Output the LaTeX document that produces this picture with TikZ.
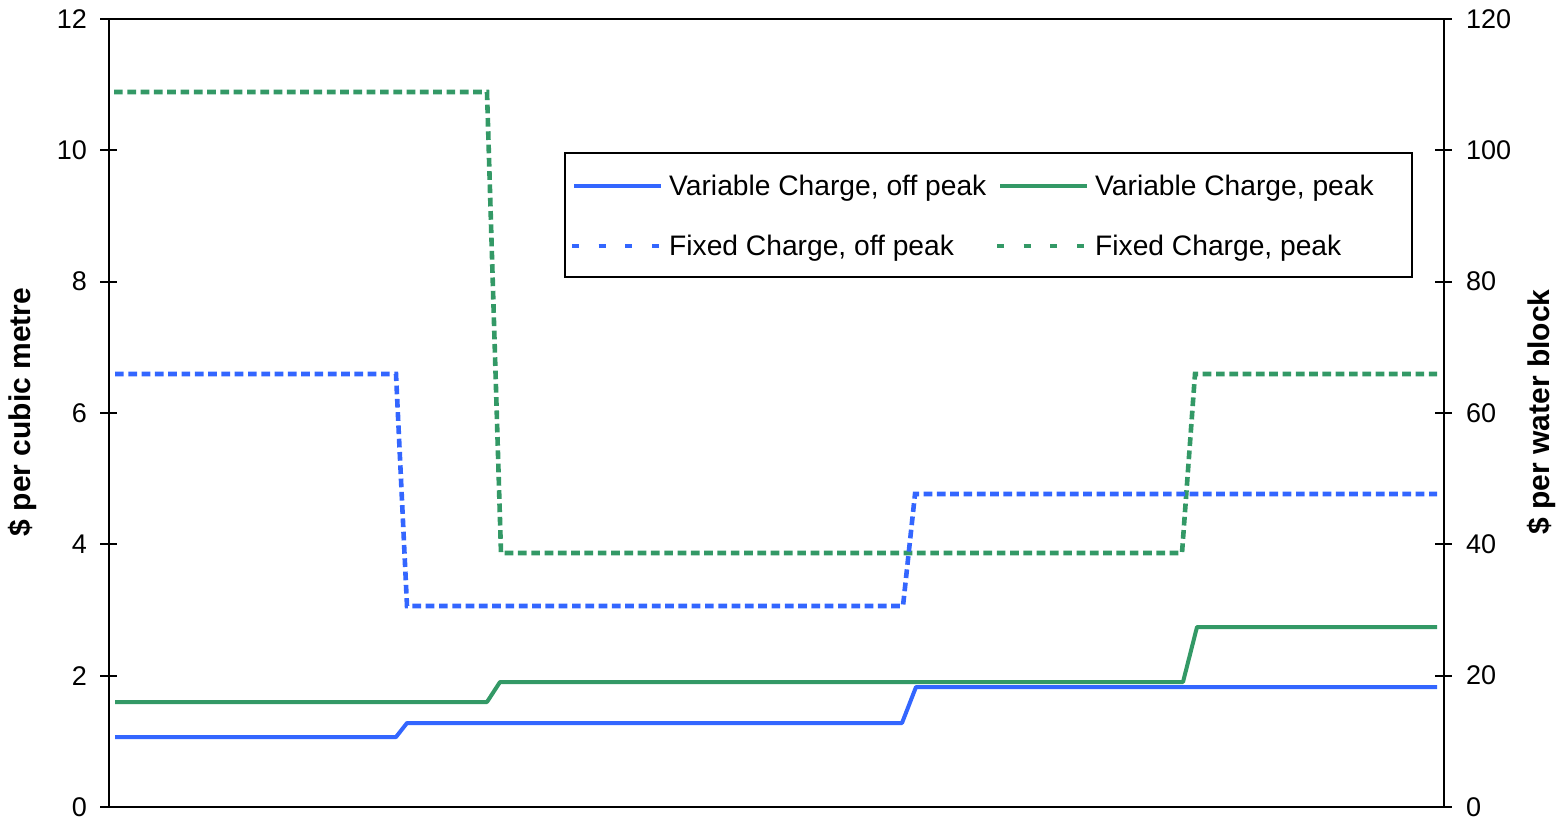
\documentclass[tikz,border=0pt]{standalone}
\usepackage{fontspec}
\setmainfont{Liberation Sans}
\definecolor{serblue}{RGB}{51,102,255}
\definecolor{sergreen}{RGB}{51,153,102}
\begin{document}
\begin{tikzpicture}[x=1pt,y=-1pt,
  axisline/.style={black,line width=2.3pt},
  tickmark/.style={black,line width=2pt},
  ticklab/.style={font=\fontsize{27}{32}\selectfont,inner sep=0pt},
  axtitle/.style={font=\fontsize{30}{36}\selectfont\bfseries,inner sep=0pt,rotate=90},
  legtext/.style={font=\fontsize{28.2}{33}\selectfont,inner sep=0pt,anchor=base west},
  solidser/.style={line width=4pt,line join=round},
  dashser/.style={line width=4.6pt,dash pattern=on 8.7pt off 4.6pt},
  legsolid/.style={line width=3.5pt},
  legdash/.style={line width=4pt,dash pattern=on 7pt off 19.7pt}]
\useasboundingbox (0,0) rectangle (1564,819);
\fill[white] (0,0) rectangle (1564,819);
% plot frame
\draw[axisline] (109,19) rectangle (1444,807);
% ticks and labels
\foreach \k/\l/\r in {0/0/0,1/2/20,2/4/40,3/6/60,4/8/80,5/10/100,6/12/120}{
  \pgfmathsetmacro{\yy}{807-\k*131.33}
  \draw[tickmark] (100,\yy) -- (117,\yy);
  \draw[tickmark] (1435,\yy) -- (1452,\yy);
  \node[ticklab,anchor=east] (L\k) at (87,\yy) {\l};
  \node[ticklab,anchor=west] (R\k) at (1466,\yy) {\r};
}
% axis titles
\node[axtitle] (ltitle) at (22,412) {\$ per cubic metre};
\node[axtitle] (rtitle) at (1541,412) {\$ per water block};
% series
\draw[solidser,sergreen] (115,702) -- (487,702) -- (500,682) -- (1183,682) -- (1197,627) -- (1437,627);
\draw[solidser,serblue] (115,737) -- (396,737) -- (407,723) -- (902,723) -- (916,687) -- (1437,687);
\draw[dashser,sergreen] (114,92) -- (487,92) -- (501,553) -- (1182,553) -- (1195,374) -- (1437,374);
\draw[dashser,serblue] (115,374) -- (396,374) -- (407,606) -- (903,606) -- (915,494) -- (1437,494);
% legend
\draw[black,line width=1.8pt,fill=white] (565,153) rectangle (1412,277);
\coordinate (a1) at (574,186); \coordinate (a2) at (661,186);
\coordinate (b1) at (1000,186); \coordinate (b2) at (1087,186);
\coordinate (c1) at (572,246); \coordinate (c2) at (661,246);
\coordinate (d1) at (997,246); \coordinate (d2) at (1086,246);
\draw[legsolid,serblue] (a1) -- (a2);
\draw[legsolid,sergreen] (b1) -- (b2);
\draw[legdash,serblue] (c1) -- (c2);
\draw[legdash,sergreen] (d1) -- (d2);
\node[legtext] (t1) at (669,195) {Variable Charge, off peak};
\node[legtext] (t2) at (1095,195) {Variable Charge, peak};
\node[legtext] (t3) at (669,255) {Fixed Charge, off peak};
\node[legtext] (t4) at (1095,255) {Fixed Charge, peak};
\end{tikzpicture}
\end{document}
